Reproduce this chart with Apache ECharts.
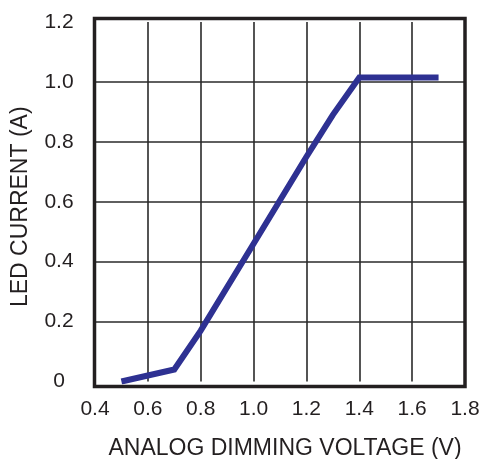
<!DOCTYPE html>
<html>
<head>
<meta charset="utf-8">
<script src="https://cdn.jsdelivr.net/npm/echarts@6/dist/echarts.min.js"></script>
<style>
html,body{margin:0;padding:0;background:#fff;}
#c{width:485px;height:459px;}
</style>
</head>
<body>
<div id="c"></div>
<script>
// Data
var voltage = [0.5, 0.6, 0.7, 0.8, 1.0, 1.2, 1.3, 1.4, 1.7];
var current = [0.0, 0.02, 0.04, 0.17, 0.46, 0.75, 0.89, 1.015, 1.015];
var xTicks = [0.4, 0.6, 0.8, 1.0, 1.2, 1.4, 1.6, 1.8];
var yTicks = [0, 0.2, 0.4, 0.6, 0.8, 1.0, 1.2];

var points = voltage.map(function (v, i) { return [v, current[i]]; });
var ink = '#231f20';
var font = '"Liberation Sans", Arial, sans-serif';

var chart = echarts.init(document.getElementById('c'));
chart.setOption({
  animation: false,
  backgroundColor: '#fff',
  grid: [
    { left: 95, right: 20, top: 22, bottom: 77.5, show: false, containLabel: false, outerBoundsMode: 'none' },
    { left: 94.5, right: 20, top: 18.5, bottom: 72.5, show: true, borderColor: ink, borderWidth: 3.5, backgroundColor: 'transparent', z: 5, containLabel: false, outerBoundsMode: 'none' }
  ],
  xAxis: [{
    gridIndex: 0,
    type: 'value',
    min: xTicks[0], max: xTicks[xTicks.length - 1], interval: 0.2,
    axisLine: { show: false },
    axisTick: { show: false },
    splitLine: { show: true, showMinLine: false, showMaxLine: false, lineStyle: { color: '#2a2a2a', width: 1.6 } },
    axisLabel: { color: ink, fontSize: 21, fontFamily: font, margin: 17,
      formatter: function (v) { return v.toFixed(1); } },
    name: 'ANALOG DIMMING VOLTAGE (V)',
    nameLocation: 'middle', nameGap: 56,
    nameTextStyle: { color: ink, fontSize: 23, fontFamily: font, padding: [0, 0, 0, 10] }
  }, {
    gridIndex: 1, type: 'value', show: false, min: 0, max: 1
  }],
  yAxis: [{
    gridIndex: 0,
    type: 'value',
    min: yTicks[0], max: yTicks[yTicks.length - 1], interval: 0.2,
    axisLine: { show: false },
    axisTick: { show: false },
    splitLine: { show: true, showMinLine: false, showMaxLine: false, lineStyle: { color: '#2a2a2a', width: 1.6 } },
    axisLabel: { color: ink, fontSize: 21, fontFamily: font, margin: 36, align: 'center',
      formatter: function (v) { return v === 0 ? '0' : v.toFixed(1); } },
    name: 'LED CURRENT (A)',
    nameLocation: 'middle', nameGap: 63,
    nameTextStyle: { color: ink, fontSize: 23, fontFamily: font, padding: [0, 10, 0, 0] }
  }, {
    gridIndex: 1, type: 'value', show: false, min: 0, max: 1
  }],
  series: [{
    type: 'line',
    xAxisIndex: 0, yAxisIndex: 0,
    data: points,
    showSymbol: false,
    symbol: 'none',
    lineStyle: { color: '#2e3192', width: 6, join: 'miter' },
    z: 3
  }]
});
</script>
</body>
</html>
